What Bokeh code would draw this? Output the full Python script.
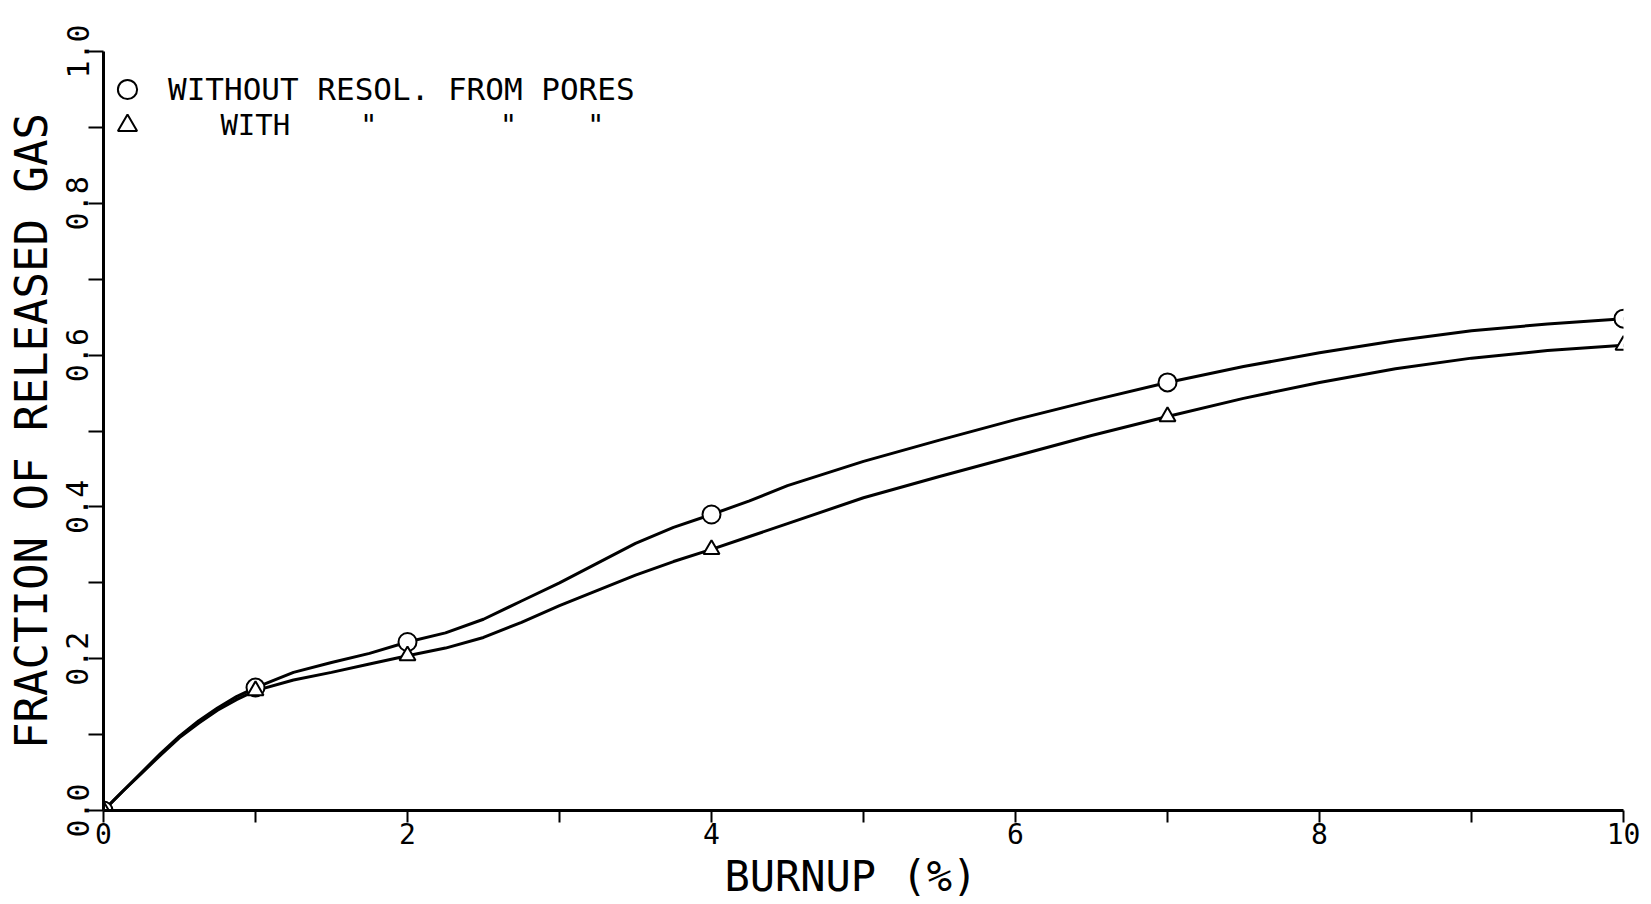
from bokeh.plotting import figure
from bokeh.models import Range1d, FixedTicker, Legend, LegendItem
from bokeh.embed import file_html
from bokeh.resources import INLINE

# measured points (burnup %, fraction of released gas)
burnup = [0, 1, 2, 4, 7, 10]
without_resol = [0.0, 0.162, 0.222, 0.390, 0.564, 0.648]
with_resol = [0.0, 0.158, 0.204, 0.344, 0.519, 0.613]

# smooth curves
curve_x = [0, 0.125, 0.25, 0.375, 0.5, 0.625, 0.75, 0.875, 1, 1.25, 1.5, 1.75,
           2, 2.25, 2.5, 2.75, 3, 3.25, 3.5, 3.75, 4, 4.25, 4.5, 5, 5.5, 6,
           6.5, 7, 7.5, 8, 8.5, 9, 9.5, 10]
curve_without = [0.0, 0.025, 0.050, 0.075, 0.098, 0.118, 0.135, 0.150, 0.162,
                 0.182, 0.195, 0.207, 0.222, 0.234, 0.252, 0.276, 0.300, 0.326,
                 0.352, 0.373, 0.390, 0.408, 0.428, 0.460, 0.488, 0.515, 0.540,
                 0.564, 0.585, 0.603, 0.619, 0.632, 0.641, 0.648]
curve_with = [0.0, 0.025, 0.049, 0.073, 0.096, 0.115, 0.132, 0.146, 0.158,
              0.172, 0.182, 0.193, 0.204, 0.214, 0.228, 0.248, 0.270, 0.290,
              0.310, 0.328, 0.344, 0.361, 0.378, 0.412, 0.440, 0.467, 0.494,
              0.519, 0.543, 0.564, 0.582, 0.596, 0.606, 0.613]

NB = "\u00a0"
x_ticks = [0, 1, 2, 3, 4, 5, 6, 7, 8, 9, 10]
x_tick_labels = ["0", "", "2", "", "4", "", "6", "", "8", "", "10"]
y_ticks = [0.0, 0.1, 0.2, 0.3, 0.4, 0.5, 0.6, 0.7, 0.8, 0.9, 1.0]
y_tick_labels = ["0.0", "", "0.2", "", "0.4", "", "0.6", "", "0.8", "", "1.0"]

legend_labels = ["WITHOUT RESOL. FROM PORES",
                 NB * 3 + "WITH" + NB * 4 + '"' + NB * 7 + '"' + NB * 4 + '"']

FONT = "DejaVu Sans Mono"

p = figure(width=1651, height=904, x_range=Range1d(0, 10), y_range=Range1d(0, 1),
           output_backend="svg", toolbar_location=None,
           min_border_left=103, min_border_right=28, min_border_top=51, min_border_bottom=94)
p.outline_line_color = None
p.grid.visible = False
p.background_fill_color = "white"
p.border_fill_color = "white"

for ax in (p.xaxis[0], p.yaxis[0]):
    ax.axis_line_width = 3
    ax.axis_line_color = "black"
    ax.major_tick_line_width = 2
    ax.major_tick_line_color = "black"
    ax.major_tick_in = 0
    ax.minor_tick_line_color = None
    ax.major_label_text_font = FONT
    ax.major_label_text_color = "black"
    ax.axis_label_text_font = FONT
    ax.axis_label_text_font_style = "normal"
    ax.axis_label_text_color = "black"

p.xaxis.ticker = FixedTicker(ticks=x_ticks)
p.xaxis.major_label_overrides = dict(zip(x_ticks, x_tick_labels))
p.xaxis.major_tick_out = 12
p.xaxis.major_label_text_font_size = "28px"
p.xaxis.major_label_standoff = 0
p.xaxis.axis_label = "BURNUP (%)" + NB
p.xaxis.axis_label_text_font_size = "42px"
p.xaxis.axis_label_standoff = 5

p.yaxis.ticker = FixedTicker(ticks=y_ticks)
p.yaxis.major_label_overrides = dict(zip(y_ticks, y_tick_labels))
p.yaxis.major_tick_out = 15
p.yaxis.major_label_text_font_size = "30px"
p.yaxis.major_label_orientation = "vertical"
p.yaxis.major_label_standoff = 0
p.yaxis.axis_label = "FRACTION OF RELEASED GAS"
p.yaxis.axis_label_text_font_size = "44px"
p.yaxis.axis_label_standoff = 7

p.line(curve_x, curve_without, line_color="black", line_width=3)
p.line(curve_x, curve_with, line_color="black", line_width=3)
r_circ = p.scatter(burnup, without_resol, marker="circle", size=18,
                   line_color="black", line_width=2, fill_color="white")
r_tri = p.scatter(burnup, with_resol, marker="triangle", size=16,
                  line_color="black", line_width=2, fill_color="white")

legend_style = dict(padding=0, margin=0, glyph_width=48, glyph_height=48,
                    label_height=48, label_standoff=17, border_line_color=None,
                    background_fill_alpha=0, label_text_font=FONT,
                    label_text_color="black")
legend1 = Legend(items=[LegendItem(label=legend_labels[0], renderers=[r_circ])],
                 location=(0, 697), label_text_font_size="31px", **legend_style)
legend2 = Legend(items=[LegendItem(label=legend_labels[1], renderers=[r_tri])],
                 location=(0, 661), label_text_font_size="29px", **legend_style)
p.add_layout(legend1)
p.add_layout(legend2)

open("out.html", "w").write(file_html(p, INLINE))
